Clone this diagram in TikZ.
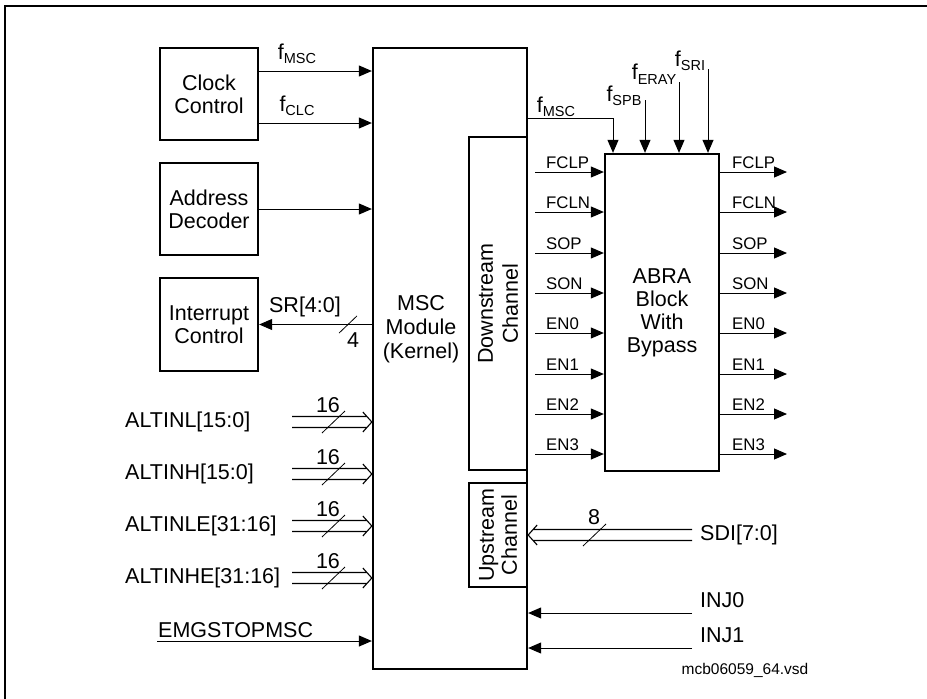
\documentclass[tikz,border=0pt]{standalone}
\usepackage{fontspec}
\setmainfont{Liberation Sans}
\usetikzlibrary{arrows.meta,calc}
\newcommand\fsig[1]{f\raisebox{-4.5pt}{\fontsize{14.5}{14.5}\selectfont #1}}
\begin{document}
\begin{tikzpicture}[x=1pt,y=-1pt,font=\fontsize{21.5}{23}\selectfont,
  box/.style={draw, line width=2.3pt, align=center, inner sep=0pt},
  sig/.style={line width=1pt, -{Triangle[length=13pt,width=11pt]}},
  busline/.style={line width=1.1pt, line join=miter},
  busR/.style={to path={
     ($(\tikztostart)+(0,-5.5)$) -- ($(\tikztotarget)+(-5,-5.5)$)
     ($(\tikztostart)+(0,5.5)$) -- ($(\tikztotarget)+(-5,5.5)$)
     ($(\tikztotarget)+(-9,-10)$) -- (\tikztotarget) -- ($(\tikztotarget)+(-9,10)$)}},
  busL/.style={to path={
     ($(\tikztostart)+(0,-5.5)$) -- ($(\tikztotarget)+(5,-5.5)$)
     ($(\tikztostart)+(0,5.5)$) -- ($(\tikztotarget)+(5,5.5)$)
     ($(\tikztotarget)+(9,-10)$) -- (\tikztotarget) -- ($(\tikztotarget)+(9,10)$)}},
  lab/.style={inner sep=0pt},
  slab/.style={font=\fontsize{16.8}{18}\selectfont, anchor=base west, inner sep=0pt},
  slash/.pic={\draw[line width=0.8pt] (-11.5,11) -- (11.5,-11);}]
\useasboundingbox (0,0) rectangle (927,699);
\draw[line width=1.5pt] (5,699) -- (5,6) -- (927,6);

% blocks
\node[box, minimum width=98pt, minimum height=92pt] (clk) at (209,94) {Clock\\Control};
\node[box, minimum width=98pt, minimum height=92pt] (adr) at (209,209) {Address\\Decoder};
\node[box, minimum width=98pt, minimum height=93pt] (irq) at (209,324.5) {Interrupt\\Control};
\node[box, minimum width=154pt, minimum height=621pt] (msc) at (450,358.5) {};
\node[lab, align=center, font=\fontsize{21.5}{24}\selectfont] (msct) at (421,329) {MSC\\Module\\(Kernel)};
\node[box, minimum width=333pt, minimum height=58pt, rotate=90, font=\fontsize{21.5}{25}\selectfont] (down) at (498,303.5) {Downstream\\Channel};
\node[box, minimum width=104pt, minimum height=58pt, rotate=90] (up) at (498,535) {Upstream\\Channel};
\node[box, minimum width=114pt, minimum height=317pt] (abra) at (662,312.5) {ABRA\\Block\\With\\Bypass};

% clock / address / interrupt
\draw[sig] (clk.east |- 0,71) -- (msc.west |- 0,71);
\node[lab] (lfmsc) at (297,54) {\fsig{MSC}};
\draw[sig] (clk.east |- 0,123) -- (msc.west |- 0,123);
\node[lab] (lfclc) at (297,106) {\fsig{CLC}};
\draw[sig] (adr.east) -- (msc.west |- adr.east);
\draw[sig] (msc.west |- irq.east) -- (irq.east);
\node[lab] (sr) at (305,307) {SR[4:0]};
\pic[scale=0.78] at (348,324.5) {slash};
\node[lab] (n4) at (353,340) {4};

% ALTIN buses
\node[lab, anchor=west] (altl) at (125,422) {ALTINL[15:0]};
\coordinate (altlS) at (292,422);
\draw[busline] (altlS) to[busR] (msc.west |- altlS);
\pic at (333.5,422) {slash};
\node[lab] at (328,405) {16};

\node[lab, anchor=west] (alth) at (125,474) {ALTINH[15:0]};
\coordinate (althS) at (292,474);
\draw[busline] (althS) to[busR] (msc.west |- althS);
\pic at (333.5,474) {slash};
\node[lab] at (328,457) {16};

\node[lab, anchor=west] (altle) at (125,526) {ALTINLE[31:16]};
\coordinate (altleS) at (292,526);
\draw[busline] (altleS) to[busR] (msc.west |- altleS);
\pic at (333.5,526) {slash};
\node[lab] at (328,509) {16};

\node[lab, anchor=west] (althe) at (125,578) {ALTINHE[31:16]};
\coordinate (altheS) at (292,578);
\draw[busline] (altheS) to[busR] (msc.west |- altheS);
\pic at (333.5,578) {slash};
\node[lab] at (328,561) {16};

% EMGSTOPMSC
\node[lab, anchor=base west] (emg) at (158,637) {EMGSTOPMSC};
\coordinate (emgS) at (157,641);
\draw[sig] (emgS) -- (msc.west |- emgS);

% clocks into ABRA
\draw[sig] (msc.east |- 0,118) -| (abra.north -| 613,0);
\node[lab] (rfmsc) at (556,107) {\fsig{MSC}};
\coordinate (spb) at (645,100);
\draw[sig] (spb) -- (abra.north -| spb);
\node[lab] (lspb) at (624,96) {\fsig{SPB}};
\coordinate (eray) at (679,82);
\draw[sig] (eray) -- (abra.north -| eray);
\node[lab] (leray) at (654,74) {\fsig{ERAY}};
\coordinate (sri) at (708,69);
\draw[sig] (sri) -- (abra.north -| sri);
\node[lab] (lsri) at (690,61) {\fsig{SRI}};

% downstream signals
\foreach \s/\y in {FCLP/172,FCLN/212,SOP/253,SON/293,EN0/333,EN1/374,EN2/414,EN3/454} {
  \coordinate (in\s) at (535,\y);
  \coordinate (out\s) at (787,\y);
  \draw[sig] (in\s) -- (abra.west |- in\s);
  \node[slab] at (546,\y-4) {\s};
  \draw[sig] (abra.east |- out\s) -- (out\s);
  \node[slab] at (732,\y-4) {\s};
}

% upstream
\node[lab, anchor=west] (sdi) at (700,535) {SDI[7:0]};
\coordinate (sdiS) at (692,535);
\draw[busline] (sdiS) to[busL] (msc.east |- sdiS);
\pic at (594.5,535) {slash};
\node[lab] (n8) at (594,517) {8};

\node[lab, anchor=west] (inj0) at (700,600) {INJ0};
\coordinate (i0) at (692,613);
\draw[sig] (i0) -- (msc.east |- i0);
\node[lab, anchor=west] (inj1) at (700,635) {INJ1};
\coordinate (i1) at (692,648);
\draw[sig] (i1) -- (msc.east |- i1);

\node[lab, font=\fontsize{15.5}{15.5}\selectfont] (file) at (745,670) {mcb06059\_64.vsd};
\end{tikzpicture}
\end{document}
